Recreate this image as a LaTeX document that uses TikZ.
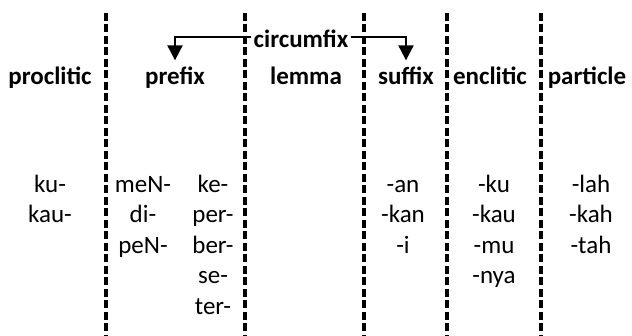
\documentclass[tikz,border=0pt]{standalone}
\usepackage{fontspec}
\setmainfont{Carlito}
\usetikzlibrary{arrows.meta}
\begin{document}
\begin{tikzpicture}[x=0.5pt, y=-0.5pt,
    every node/.style={font=\fontsize{12.5}{15.25}\selectfont},
    head/.style={anchor=base, font=\fontsize{12.5}{15.25}\selectfont\bfseries},
    entries/.style={anchor=north, align=center},
    divider/.style={line width=1.6pt, dash pattern=on 4pt off 1.75pt},
    circarrow/.style={line width=1pt, -{Triangle[length=7.5pt,width=7.5pt]}}]

    \useasboundingbox (0,0) rectangle (632,336);

    % Draw column dividers
    \foreach \x in {106,245,364,447,541}
        \draw[divider] (\x,13) -- (\x,336);

    % Column headings
    \node[head] (proclitic) at (50,85) {proclitic};
    \node[head] (prefix) at (175,85) {prefix};
    \node[head] (lemma) at (306,85) {lemma};
    \node[head] (suffix) at (406,85) {suffix};
    \node[head] (enclitic) at (490,85) {enclitic};
    \node[head] (particle) at (587,85) {particle};

    % Circumfix spans prefix and suffix
    \node[head, inner sep=1pt] (circ) at (301,48) {circumfix};
    \draw[circarrow] ([yshift=1pt]circ.west) -| (prefix.north);
    \draw[circarrow] ([yshift=1pt]circ.east) -| (suffix.north);

    % Morphemes in each column
    \node[entries] (procl) at (50,164) {\strut ku-\\kau-};
    \node[entries] (prefA) at (143,164) {\strut meN-\\di-\\peN-};
    \node[entries] (prefB) at (213,164) {\strut ke-\\per-\\ber-\\se-\\ter-};
    \node[entries] (suff) at (403,164) {\strut -an\\-kan\\-i};
    \node[entries] (encl) at (494,164) {\strut -ku\\-kau\\-mu\\-nya};
    \node[entries] (part) at (591,164) {\strut -lah\\-kah\\-tah};

\end{tikzpicture}
\end{document}
